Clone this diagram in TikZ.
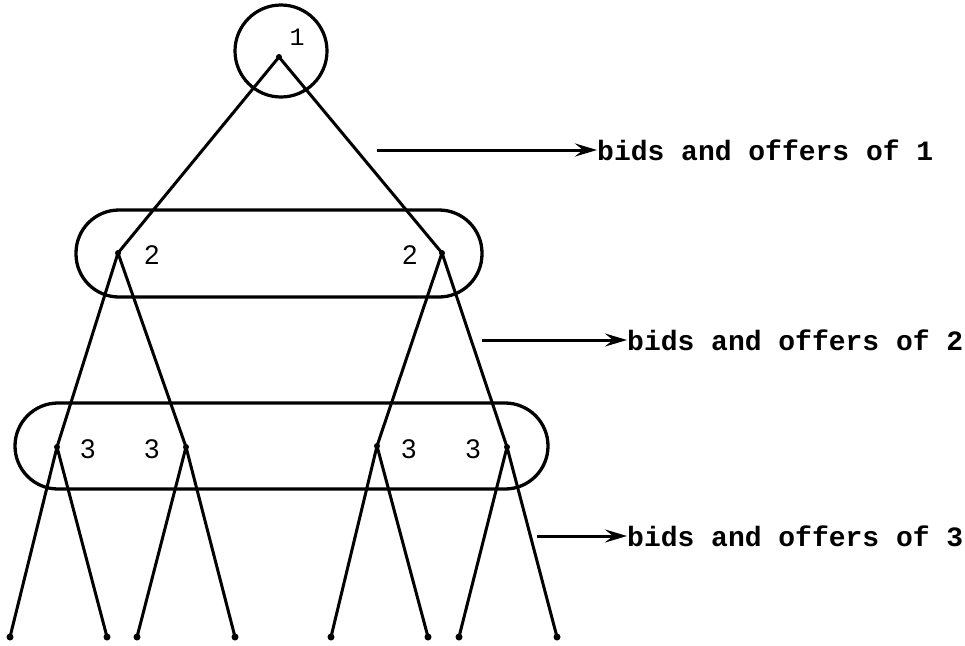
\documentclass[tikz,border=0pt]{standalone}
\usepackage{fontspec}
\setmainfont{Liberation Sans}
\newfontfamily\typew{Liberation Mono}
\usetikzlibrary{arrows.meta}
\begin{document}
\begin{tikzpicture}[x=1pt,y=-1pt,
  edge/.style={line width=3pt},
  frame/.style={line width=3.3pt,rounded corners=43pt},
  pt/.style={circle,fill=black,inner sep=0pt,minimum size=6pt},
  lbl/.style={font=\fontsize{27}{27}\selectfont,inner sep=0pt},
  note/.style={font=\typew\bfseries\fontsize{28}{28}\selectfont,inner sep=0pt,anchor=west},
  bidarrow/.style={line width=3pt,-{Stealth[length=22pt,width=13pt,inset=8pt]}}]
\useasboundingbox (0,0) rectangle (965,645);
% root
\node[draw,circle,line width=3.2pt,minimum size=92pt,inner sep=0pt] (rc) at (281,51) {};
\node[pt] (r) at (279,57) {};
\node[font=\typew\fontsize{25}{25}\selectfont,inner sep=0pt] (l1) at (297,37) {1};
% level 2
\node[pt] (a) at (118,253) {};
\node[pt] (b) at (442,253) {};
\node[lbl] (la) at (152,255) {2};
\node[lbl] (lb) at (410,255) {2};
\draw[frame] (76,210) rectangle (482,297);
% level 3
\node[pt] (c1) at (57,447) {};
\node[pt] (c2) at (186,447) {};
\node[pt] (c3) at (377,446) {};
\node[pt] (c4) at (507,447) {};
\node[lbl] (lc1) at (88,449) {3};
\node[lbl] (lc2) at (152,449) {3};
\node[lbl] (lc3) at (409,449) {3};
\node[lbl] (lc4) at (473,449) {3};
\draw[frame] (15,403) rectangle (548,489);
% leaves
\foreach \n/\x in {d1/10,d2/107,d3/137,d4/235,d5/331,d6/428,d7/459,d8/557}
  \node[pt,minimum size=7pt] (\n) at (\x,637) {};
% edges
\draw[edge] (r.center) -- (a.center);
\draw[edge] (r.center) -- (b.center);
\draw[edge] (a.center) -- (c1.center);
\draw[edge] (a.center) -- (c2.center);
\draw[edge] (b.center) -- (c3.center);
\draw[edge] (b.center) -- (c4.center);
\draw[edge] (c1.center) -- (d1.center);
\draw[edge] (c1.center) -- (d2.center);
\draw[edge] (c2.center) -- (d3.center);
\draw[edge] (c2.center) -- (d4.center);
\draw[edge] (c3.center) -- (d5.center);
\draw[edge] (c3.center) -- (d6.center);
\draw[edge] (c4.center) -- (d7.center);
\draw[edge] (c4.center) -- (d8.center);
% notes
\coordinate (s1) at (377,150);
\coordinate (s2) at (482,340);
\coordinate (s3) at (537,536);
\node[note] (t1) at (597,150) {bids and offers of 1};
\node[note] (t2) at (627,340) {bids and offers of 2};
\node[note] (t3) at (627,536) {bids and offers of 3};
\draw[bidarrow] (s1) -- (t1.west);
\draw[bidarrow] (s2) -- (t2.west);
\draw[bidarrow] (s3) -- (t3.west);
\end{tikzpicture}
\end{document}
